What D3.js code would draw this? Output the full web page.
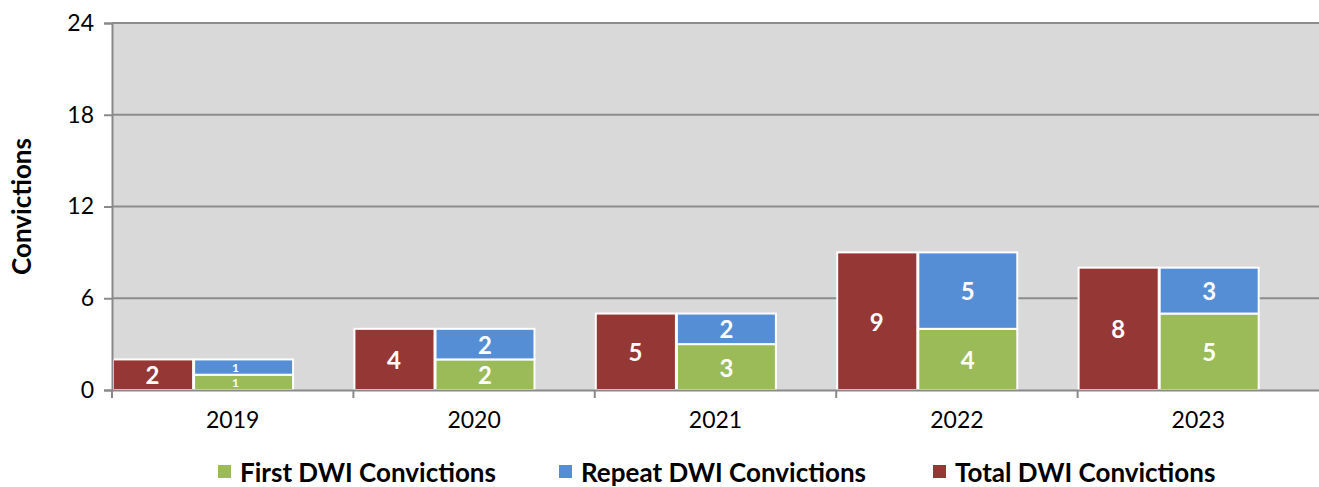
<!doctype html>
<html>
<head>
<meta charset="utf-8">
<title>DWI Convictions</title>
<script src="https://d3js.org/d3.v7.min.js"></script>
<style>
  body { margin: 0; background: #fff; }
  text { font-family: Lato, "Open Sans", sans-serif; }
</style>
</head>
<body>
<div id="chart"></div>
<script>
const years = ["2019", "2020", "2021", "2022", "2023"];
const firstDwi = [1, 2, 3, 4, 5];
const repeatDwi = [1, 2, 2, 5, 3];
const totalDwi = [2, 4, 5, 9, 8];
const yTicks = [0, 6, 12, 18, 24];

const w = 1319, h = 487;
const mLeft = 112, mRight = 1319, mTop = 23, mBottom = 390;

const svg = d3.select("#chart").append("svg")
  .attr("width", w).attr("height", h);

const x = d3.scaleBand().domain(years).range([mLeft, mRight]);
const y = d3.scaleLinear().domain([0, 24]).range([mBottom, mTop]);
const bw = x.bandwidth();

// plot background
svg.append("rect")
  .attr("x", mLeft).attr("y", mTop)
  .attr("width", mRight - mLeft).attr("height", mBottom - mTop)
  .attr("fill", "#d9d9d9");

// gridlines
svg.selectAll(".grid")
  .data(yTicks.filter(d => d > 0))
  .enter().append("line")
  .attr("x1", mLeft).attr("x2", mRight)
  .attr("y1", d => y(d)).attr("y2", d => y(d))
  .attr("stroke", "#8c8c8c").attr("stroke-width", 2);

// total bars
svg.selectAll(".total")
  .data(years)
  .enter().append("rect")
  .attr("x", d => x(d) + 1)
  .attr("y", (d, i) => y(totalDwi[i]))
  .attr("width", bw * 0.336 - 1)
  .attr("height", (d, i) => mBottom - y(totalDwi[i]))
  .attr("fill", "#953735")
  .attr("stroke", "#fff").attr("stroke-width", 2);

// stacked first + repeat
const sx = d => x(d) + bw * 0.336 + 1;
const sw = bw * 0.41;
svg.selectAll(".first")
  .data(years)
  .enter().append("rect")
  .attr("x", sx)
  .attr("y", (d, i) => y(firstDwi[i]))
  .attr("width", sw)
  .attr("height", (d, i) => mBottom - y(firstDwi[i]))
  .attr("fill", "#9bbb59")
  .attr("stroke", "#fff").attr("stroke-width", 2);

svg.selectAll(".repeat")
  .data(years)
  .enter().append("rect")
  .attr("x", sx)
  .attr("y", (d, i) => y(firstDwi[i] + repeatDwi[i]))
  .attr("width", sw)
  .attr("height", (d, i) => y(firstDwi[i]) - y(firstDwi[i] + repeatDwi[i]))
  .attr("fill", "#558ed5")
  .attr("stroke", "#fff").attr("stroke-width", 2);

// value labels (small segments in 2019 get a smaller font)
const small = d => d === "2019";
const lbl = (sel) => sel
  .attr("text-anchor", "middle").attr("dominant-baseline", "central")
  .attr("fill", "#fff").attr("font-weight", "bold").attr("font-size", 24);

svg.selectAll(".tl").data(years).enter().append("text")
  .attr("x", d => x(d) + bw * 0.168)
  .attr("y", (d, i) => (y(totalDwi[i]) + mBottom) / 2)
  .text((d, i) => totalDwi[i]).call(lbl);

svg.selectAll(".fl").data(years).enter().append("text")
  .attr("x", d => sx(d) + sw / 2 - (small(d) ? 8 : 0))
  .attr("y", (d, i) => (y(firstDwi[i]) + mBottom) / 2)
  .text((d, i) => firstDwi[i]).call(lbl)
  .attr("font-size", d => small(d) ? 12 : 24);

svg.selectAll(".rl").data(years).enter().append("text")
  .attr("x", d => sx(d) + sw / 2 - (small(d) ? 8 : 0))
  .attr("y", (d, i) => (y(firstDwi[i] + repeatDwi[i]) + y(firstDwi[i])) / 2)
  .text((d, i) => repeatDwi[i]).call(lbl)
  .attr("font-size", d => small(d) ? 12 : 24);

// axes
const yAxis = d3.axisLeft(y).tickValues(yTicks).tickSize(8).tickPadding(10);
const gy = svg.append("g").attr("transform", `translate(${mLeft},0)`).call(yAxis);
gy.select(".domain").attr("stroke", "#898989").attr("stroke-width", 2);
gy.selectAll(".tick line").attr("stroke", "#898989").attr("stroke-width", 2);
gy.selectAll(".tick text").attr("font-size", 23).attr("fill", "#000")
  .style("font-family", "Lato, 'Open Sans', sans-serif");

const xAxis = d3.axisBottom(x).tickSize(0).tickPadding(22);
const gx = svg.append("g").attr("transform", `translate(0,${mBottom})`).call(xAxis);
gx.select(".domain").attr("stroke", "#898989").attr("stroke-width", 2);
gx.selectAll(".tick text").attr("font-size", 23).attr("fill", "#000")
  .style("font-family", "Lato, 'Open Sans', sans-serif");

// x tick marks at band boundaries
svg.selectAll(".xt")
  .data(years)
  .enter().append("line")
  .attr("x1", d => x(d)).attr("x2", d => x(d))
  .attr("y1", mBottom).attr("y2", mBottom + 8)
  .attr("stroke", "#898989").attr("stroke-width", 2);

// y title
svg.append("text")
  .attr("transform", `translate(31,${(mTop + mBottom) / 2}) rotate(-90)`)
  .attr("text-anchor", "middle")
  .attr("font-weight", "bold").attr("font-size", 26)
  .text("Convictions");

// legend
const legend = [
  { name: "First DWI Convictions", color: "#9bbb59", x: 218 },
  { name: "Repeat DWI Convictions", color: "#558ed5", x: 559 },
  { name: "Total DWI Convictions", color: "#953735", x: 933 }
];
const lg = svg.selectAll(".lg").data(legend).enter().append("g")
  .attr("transform", d => `translate(${d.x},465)`);
lg.append("rect").attr("width", 13).attr("height", 13).attr("fill", d => d.color);
lg.append("text").attr("x", 22).attr("y", 7).attr("dominant-baseline", "central")
  .attr("font-weight", "bold").attr("font-size", 26)
  .text(d => d.name);
</script>
</body>
</html>
